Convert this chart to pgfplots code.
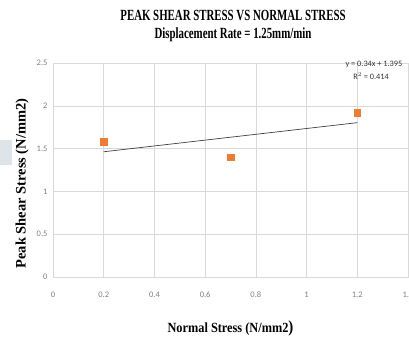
\documentclass[border=0pt]{standalone}
\usepackage{pgfplots}
\pgfplotsset{compat=1.18}
\usepackage{fontspec}
\setmainfont{Liberation Serif}
\newfontfamily\carlito{Carlito}
\definecolor{ptorange}{HTML}{ED7D31}
\definecolor{gridgray}{HTML}{D9D9D9}
\definecolor{ticklab}{HTML}{808080}
\definecolor{artbox}{HTML}{DFE4E8}
\begin{document}
\begin{tikzpicture}[x=1pt,y=1pt]
\path[use as bounding box] (-53,-68) rectangle (356,277);
\fill[artbox] (-53,112) rectangle (-41,137);
\begin{axis}[
  at={(0,0)}, anchor=south west,
  scale only axis, width=355pt, height=214pt,
  xmin=0, xmax=1.4, ymin=0, ymax=2.5,
  xtick={0,0.2,...,1.4}, ytick={0,0.5,...,2.5},
  xticklabels={0,0.2,0.4,0.6,0.8,1,1.2,1.4},
  yticklabels={0,0.5,1,1.5,2,2.5},
  grid=major, major grid style={gridgray, line width=0.6pt},
  axis line style={gridgray, line width=0.6pt},
  tick style={draw=none},
  /pgf/number format/assume math mode=true,
  ticklabel style={font=\carlito\fontsize{8.5}{9}\selectfont, text=ticklab},
  xticklabel style={yshift=-11pt},
  yticklabel style={xshift=-2pt},
  clip=false,
]
\addplot[only marks, mark=square*, mark size=3.2pt, mark options={ptorange, draw=ptorange, fill=ptorange}]
  coordinates {(0.2,1.58) (0.7,1.40) (1.2,1.92)};
\addplot[color=black!75, line width=0.7pt] coordinates {(0.2,1.463) (1.2,1.803)};
\node[anchor=east, font=\carlito\fontsize{8.3}{9}\selectfont, text=black!80] at (rel axis cs:0.994,0.995) {y = 0.34x + 1.395};
\node[font=\carlito\fontsize{8.3}{9}\selectfont, text=black!80] at (rel axis cs:0.896,0.939) {R$^2$ = 0.414};
\node[font=\bfseries\fontsize{15.5}{17}\selectfont] at (rel axis cs:0.507,1.22) {\scalebox{0.70}[1]{PEAK SHEAR STRESS VS NORMAL STRESS}};
\node[font=\bfseries\fontsize{15.5}{17}\selectfont] at (rel axis cs:0.507,1.131) {\scalebox{0.70}[1]{Displacement Rate = 1.25mm/min}};
\node[font=\bfseries\fontsize{14}{15}\selectfont] at (rel axis cs:0.5,-0.238) {\scalebox{0.88}[1]{Normal Stress (N/mm2{\fontsize{17}{17}\selectfont)}}};
\node[font=\bfseries\fontsize{14.5}{15}\selectfont, rotate=90] at (rel axis cs:-0.087,0.437) {Peak Shear Stress (N/mm2)};
\end{axis}
\end{tikzpicture}
\end{document}
